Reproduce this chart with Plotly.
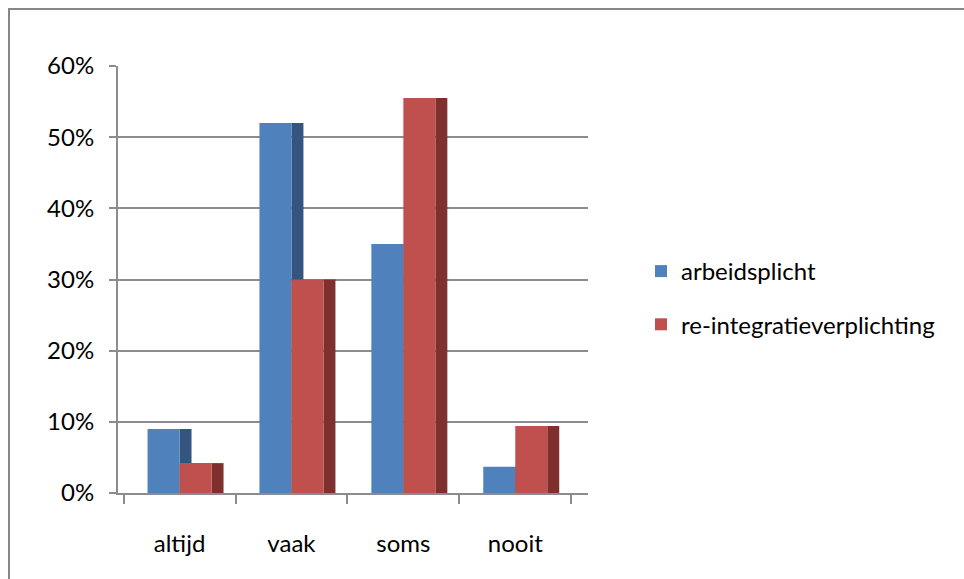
import plotly.graph_objects as go

# Survey answers per frequency category
categories = ["altijd", "vaak", "soms", "nooit"]
arbeidsplicht = [0.09, 0.52, 0.35, 0.037]
reintegratie = [0.042, 0.30, 0.555, 0.094]
series_names = ["arbeidsplicht", "re-integratieverplichting"]

y_ticks = [0, 0.1, 0.2, 0.3, 0.4, 0.5, 0.6]

# Colours: front face and shaded side face of each column
blue_front, blue_side = "#4F81BD", "#34557F"
red_front, red_side = "#C0504D", "#7F2F2D"

FONT = "Lato"
FS = 24
GRID = "#8C8C8C"

W, H = 964, 579
ML, MR, MT, MB = 118, 376, 66, 86

face_w = 0.286   # width of a column's front face (category units)
side_w = 0.107   # width of the shaded side face

fig = go.Figure()

# Blue column: side face first, then front face
fig.add_trace(go.Bar(
    x=categories, y=arbeidsplicht, offset=0, width=side_w,
    marker=dict(color=blue_side, line=dict(width=0)),
    legendgroup="a", showlegend=False, hoverinfo="skip"))
fig.add_trace(go.Bar(
    x=categories, y=arbeidsplicht, offset=-face_w, width=face_w,
    marker=dict(color=blue_front, line=dict(width=0)),
    name=series_names[0], legendgroup="a"))
# Red column drawn on top of the blue side face
fig.add_trace(go.Bar(
    x=categories, y=reintegratie, offset=face_w, width=side_w,
    marker=dict(color=red_side, line=dict(width=0)),
    legendgroup="b", showlegend=False, hoverinfo="skip"))
fig.add_trace(go.Bar(
    x=categories, y=reintegratie, offset=0, width=face_w,
    marker=dict(color=red_front, line=dict(width=0)),
    name=series_names[1], legendgroup="b"))

# Outer chart border (paper coordinates derived from the margins)
pw, ph = W - ML - MR, H - MT - MB
bx0 = (9 - ML) / pw
bx1 = (W + 5 - ML) / pw
by0 = -(MB + 5) / ph
by1 = (H - MB - 9) / ph
fig.add_shape(type="rect", xref="paper", yref="paper",
              x0=bx0, x1=bx1, y0=by0, y1=by1,
              line=dict(color="#878787", width=2), fillcolor="rgba(0,0,0,0)",
              layer="below")

fig.update_layout(
    width=W, height=H,
    margin=dict(l=ML, r=MR, t=MT, b=MB),
    paper_bgcolor="white", plot_bgcolor="white",
    barmode="overlay",
    font=dict(family=FONT, size=FS, color="#000000"),
    showlegend=True,
    legend=dict(
        xref="container", yref="container",
        x=641 / W, y=1 - 298 / H, xanchor="left", yanchor="middle",
        tracegroupgap=19, font=dict(family=FONT, size=FS),
        bgcolor="rgba(0,0,0,0)", itemclick=False,
    ),
    xaxis=dict(
        range=[-0.55, 3.65], showgrid=False, zeroline=False,
        showline=True, linecolor=GRID, linewidth=2,
        ticks="outside", tickson="boundaries", ticklen=9,
        tickcolor=GRID, tickwidth=2, ticklabelstandoff=28,
        tickfont=dict(family=FONT, size=FS),
    ),
    yaxis=dict(
        range=[0, 0.6], tickvals=y_ticks, tickformat=".0%",
        showgrid=True, gridcolor=GRID, gridwidth=2,
        zeroline=False, showline=True, linecolor=GRID, linewidth=2,
        ticks="outside", ticklen=7, tickcolor=GRID, tickwidth=2,
        ticklabelstandoff=10, tickfont=dict(family=FONT, size=FS),
    ),
)

fig.write_html("out.html")
